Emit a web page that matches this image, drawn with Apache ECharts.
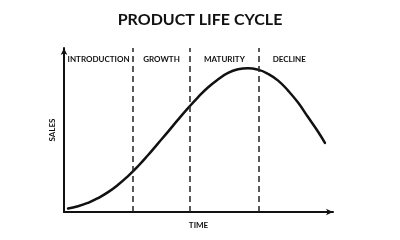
<!DOCTYPE html>
<html>
<head>
<meta charset="utf-8">
<script src="https://cdn.jsdelivr.net/npm/echarts@6/dist/echarts.min.js"></script>
<style>html,body{margin:0;padding:0;background:#fff}#c{width:400px;height:240px}</style>
</head>
<body>
<div id="c"></div>
<script>
var titleText = 'PRODUCT LIFE CYCLE';
var xName = 'TIME';
var yName = 'SALES';
var phases = ['INTRODUCTION', 'GROWTH', 'MATURITY', 'DECLINE'];
var phaseBounds = [0, 25.7, 46.8, 72.5, 95];
var curveX = [1.5, 5.2, 8.9, 12.6, 16.4, 20.1, 23.8, 27.5, 31.2, 34.9, 38.7, 42.4, 46.1, 49.8, 53.5, 57.3, 61.0, 64.7, 68.4, 72.1, 75.8, 79.6, 83.3, 87.0, 90.7, 94.4, 97.0];
var curveY = [2.1, 3.5, 5.6, 8.4, 12.1, 16.6, 21.9, 27.9, 34.6, 41.7, 49.0, 56.3, 63.3, 69.9, 75.9, 80.9, 84.8, 87.0, 87.7, 86.8, 84.3, 80.1, 74.0, 66.7, 57.9, 49.1, 42.1];

var FONT = 'Lato';
var curveData = curveX.map(function (x, i) { return [x, curveY[i]]; });
var dividers = phaseBounds.slice(1, phaseBounds.length - 1).map(function (v) { return { xAxis: v }; });
var areas = phases.map(function (p, i) {
  return [{ name: p, xAxis: phaseBounds[i] }, { xAxis: phaseBounds[i + 1] }];
});

var chart = echarts.init(document.getElementById('c'), null, { renderer: 'canvas' });
chart.setOption({
  animation: false,
  backgroundColor: '#fff',
  title: {
    text: titleText, left: 'center', top: 7,
    textStyle: { fontFamily: FONT, fontWeight: 'bold', fontSize: 16, color: '#111' }
  },
  grid: { left: 64, right: 67, top: 48, bottom: 28 },
  xAxis: {
    type: 'value', min: 0, max: 100,
    name: xName, nameLocation: 'middle', nameGap: 9,
    nameTextStyle: { fontFamily: FONT, fontWeight: 'bold', fontSize: 8, color: '#111', verticalAlign: 'top' },
    axisLine: { show: true, symbol: ['none', 'arrow'], symbolSize: [5, 7], lineStyle: { color: '#111', width: 2 } },
    axisTick: { show: false }, axisLabel: { show: false }, splitLine: { show: false }
  },
  yAxis: {
    type: 'value', min: 0, max: 100,
    name: yName, nameLocation: 'middle', nameGap: 8, nameRotate: 90,
    nameTextStyle: { fontFamily: FONT, fontWeight: 'bold', fontSize: 8, color: '#111' },
    axisLine: { show: true, symbol: ['none', 'arrow'], symbolSize: [5, 7], lineStyle: { color: '#111', width: 2 } },
    axisTick: { show: false }, axisLabel: { show: false }, splitLine: { show: false }
  },
  series: [{
    type: 'line', data: curveData, smooth: true, showSymbol: false,
    lineStyle: { color: '#111', width: 2.5, cap: 'round', join: 'round' },
    markLine: {
      silent: true, symbol: ['none', 'none'], label: { show: false },
      lineStyle: { color: '#222', type: [6, 4], width: 1.5 },
      data: dividers
    },
    markArea: {
      silent: true, itemStyle: { color: 'rgba(0,0,0,0)' },
      label: { show: true, position: 'insideTop', distance: 7, fontFamily: FONT, fontWeight: 'bold', fontSize: 8, color: '#111' },
      data: areas
    }
  }]
});
</script>
</body>
</html>
